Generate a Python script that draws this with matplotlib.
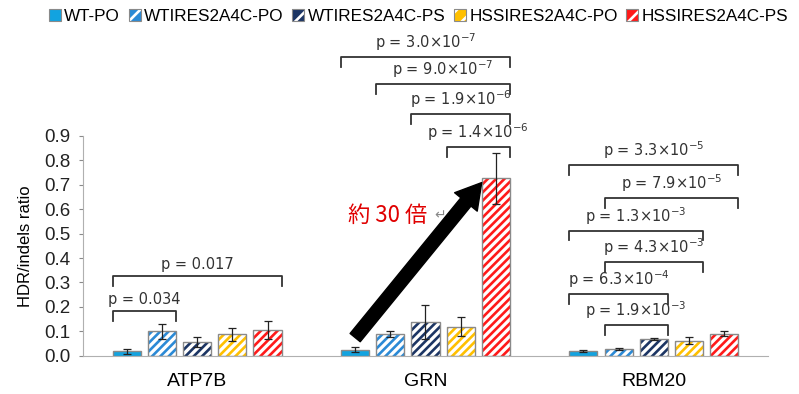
import matplotlib.pyplot as plt
import numpy as np
from matplotlib.patches import Patch

plt.rcParams['font.family'] = ['Liberation Sans', 'DejaVu Sans']
plt.rcParams['hatch.linewidth'] = 1.9

genes = ['ATP7B', 'GRN', 'RBM20']
series = ['WT-PO', 'WTIRES2A4C-PO', 'WTIRES2A4C-PS', 'HSSIRES2A4C-PO', 'HSSIRES2A4C-PS']
colors = ['#12a3e0', '#2b8ad6', '#1c3564', '#ffc000', '#ff1a1a']
hatched = [False, True, True, True, True]

values = [
    [0.020, 0.100, 0.057, 0.088, 0.107],   # ATP7B
    [0.025, 0.088, 0.140, 0.120, 0.725],   # GRN
    [0.022, 0.028, 0.068, 0.063, 0.090],   # RBM20
]
errors = [
    [0.010, 0.030, 0.022, 0.027, 0.036],
    [0.010, 0.012, 0.070, 0.040, 0.105],
    [0.004, 0.005, 0.004, 0.015, 0.010],
]

# significance brackets: gene index, first bar, last bar, height, label
br_gene = [0, 0, 1, 1, 1, 1, 2, 2, 2, 2, 2, 2]
br_from = [0, 0, 0, 1, 2, 3, 0, 1, 0, 1, 0, 1]
br_to = [1, 4, 4, 4, 4, 4, 4, 4, 3, 3, 2, 2]
br_top = [0.183, 0.325, 1.22, 1.11, 0.988, 0.854, 0.78, 0.646, 0.512, 0.382, 0.252, 0.126]
br_text = ['p = 0.034', 'p = 0.017',
           'p = 3.0×10$^{-7}$', 'p = 9.0×10$^{-7}$', 'p = 1.9×10$^{-6}$', 'p = 1.4×10$^{-6}$',
           'p = 3.3×10$^{-5}$', 'p = 7.9×10$^{-5}$', 'p = 1.3×10$^{-3}$', 'p = 4.3×10$^{-3}$',
           'p = 6.3×10$^{-4}$', 'p = 1.9×10$^{-3}$']

fig = plt.figure(figsize=(7.99, 3.94), dpi=100)
ax = fig.add_axes([0.104, 0.0965, 0.857, 0.5595])

width = 0.123
step = 0.154
offsets = (np.arange(5) - 2) * step
x = np.arange(len(genes))
vals = np.array(values)
errs = np.array(errors)
edge = '#8a8a8a'

for k in range(5):
    pos = x + offsets[k]
    if hatched[k]:
        ax.bar(pos, vals[:, k], width, color='white', edgecolor=colors[k],
               hatch='////', linewidth=0, zorder=2)
        ax.bar(pos, vals[:, k], width, facecolor='none', edgecolor=edge,
               linewidth=1, zorder=3)
    else:
        ax.bar(pos, vals[:, k], width, color=colors[k], edgecolor=edge,
               linewidth=1, zorder=3)
    ax.errorbar(pos, vals[:, k], yerr=errs[:, k], fmt='none', ecolor='#222222',
                elinewidth=0.9, capsize=3, capthick=0.9, zorder=4)

drop = 0.04
for g, i, j, top, txt in zip(br_gene, br_from, br_to, br_top, br_text):
    x0 = g + offsets[i] - width / 2
    x1 = g + offsets[j] + width / 2
    ax.plot([x0, x0, x1, x1], [top - drop, top, top, top - drop], color='#333333',
            lw=1.3, clip_on=False, zorder=5)
    ax.text((x0 + x1) / 2, top + 0.016, txt, ha='center', va='bottom', fontsize=10.5,
            family='DejaVu Sans', color='#333333', clip_on=False)

# fold-change arrow in GRN
tail = (1 + offsets[0], vals[1, 0] + errs[1, 0] + 0.04)
tip = (1 + offsets[4] - width / 2, vals[1, 4] - 0.017)
ax.annotate('', xy=tip, xytext=tail,
            arrowprops=dict(arrowstyle='simple,head_width=1.05,head_length=0.9,tail_width=0.47',
                            mutation_scale=20, color='black', shrinkA=0, shrinkB=0),
            zorder=6)
ax.text(0.835, 0.575, '約 30 倍', color='#e00000', fontsize=16, ha='center', va='center',
        family=['Noto Sans CJK JP', 'DejaVu Sans'])
ax.text(1.066, 0.575, '↵', color='#888888', fontsize=10, ha='center', va='center',
        family=['DejaVu Sans'])

ax.set_xlim(-0.5, 2.5)
ax.set_ylim(0, 0.9)
ax.set_yticks(np.arange(0, 0.91, 0.1))
ax.set_yticklabels([f'{v:.1f}' for v in np.arange(0, 0.91, 0.1)], fontsize=13.5)
ax.set_xticks(x)
ax.set_xticklabels(genes, fontsize=14)
ax.tick_params(axis='x', length=0, pad=12)
ax.tick_params(axis='y', length=3, color=edge, pad=6, labelcolor='#222222')
ax.set_ylabel('HDR/indels ratio', fontsize=12, labelpad=8)
for s in ['top', 'right']:
    ax.spines[s].set_visible(False)
for s in ['left', 'bottom']:
    ax.spines[s].set_color('#b0b0b0')

handles = []
for k in range(5):
    if hatched[k]:
        h = (Patch(facecolor=colors[k], edgecolor='white', hatch='//', linewidth=0),
             Patch(facecolor='none', edgecolor=edge, linewidth=0.8))
    else:
        h = Patch(facecolor=colors[k], edgecolor=edge, linewidth=0.8)
    handles.append(h)
fig.legend(handles, series, loc='center', bbox_to_anchor=(0.524, 0.958), ncol=5,
           frameon=False, fontsize=12.3, handlelength=0.7, handleheight=0.7,
           handletextpad=0.2, columnspacing=0.5)

fig.savefig('out.png', dpi=100)
